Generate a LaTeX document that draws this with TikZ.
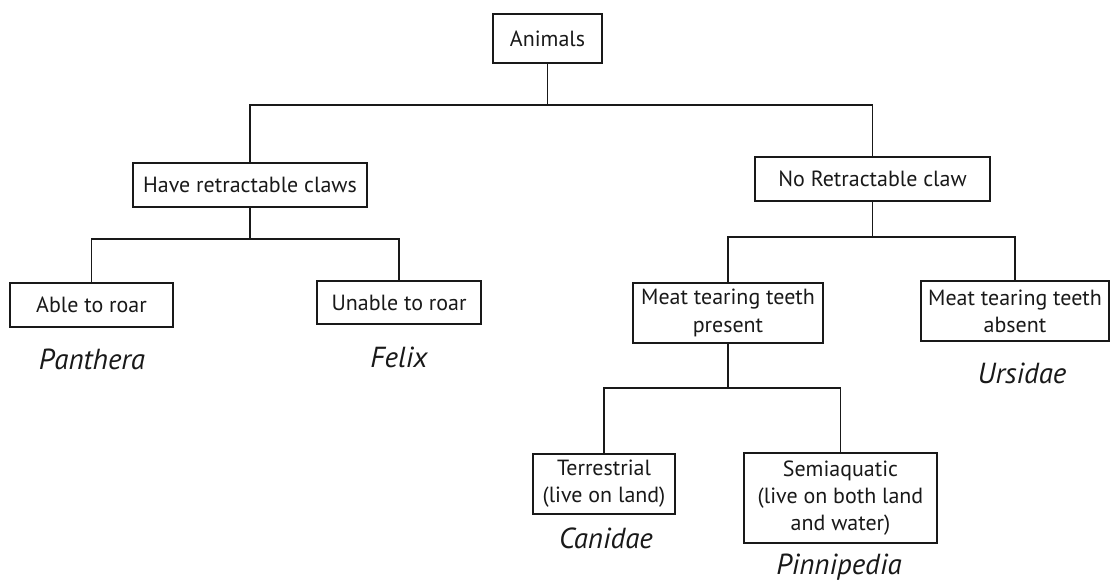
\documentclass[tikz,border=0pt]{standalone}
\usepackage{fontspec}
\setmainfont{PT Sans}
\begin{document}
\begin{tikzpicture}[x=0.02cm,y=-0.02cm,
  line width=1pt,
  box/.style={draw=black!90, line width=1pt, align=center, inner sep=0pt,
    font=\fontsize{12.5}{15.5}\selectfont, text=black!90},
  taxon/.style={font=\fontsize{16.5}{18}\selectfont\itshape, text=black!90, inner sep=0pt},
  link/.style={draw=black!90, line width=1pt}]
\useasboundingbox (0,0) rectangle (1112,584);
\fill[white] (0,0) rectangle (1112,584);
% boxes
\node[box, minimum width=2.18cm, minimum height=0.98cm] (animals) at (547.5,38.5) {Animals};
\node[box, minimum width=4.68cm, minimum height=0.88cm] (hrc) at (250,185) {Have retractable claws};
\node[box, minimum width=4.70cm, minimum height=0.88cm] (nrc) at (872.5,179) {No Retractable claw};
\node[box, minimum width=3.26cm, minimum height=0.88cm] (able) at (91.5,305) {Able to roar};
\node[box, minimum width=3.28cm, minimum height=0.86cm] (unable) at (399,302.5) {Unable to roar};
\node[box, minimum width=3.80cm, minimum height=1.20cm] (mtp) at (728,313) {Meat tearing teeth\\present};
\node[box, minimum width=3.76cm, minimum height=1.20cm] (mta) at (1015,311) {Meat tearing teeth\\absent};
\node[box, minimum width=2.84cm, minimum height=1.20cm] (terr) at (604,484) {Terrestrial\\(live on land)};
\node[box, minimum width=3.86cm, minimum height=1.80cm] (semi) at (840.5,498) {Semiaquatic\\(live on both land\\and water)};
% taxa
\node[taxon] (panthera) at (92,359) {Panthera};
\node[taxon] (felix) at (399,357) {Felix};
\node[taxon] (ursidae) at (1022,373) {Ursidae};
\node[taxon] (canidae) at (606,538) {Canidae};
\node[taxon] (pinnipedia) at (839,567) {Pinnipedia};
% junctions
\coordinate (j1) at (547.5,105);
\coordinate (j2) at (250,239);
\coordinate (j3) at (872.5,237);
\coordinate (j4) at (728,388);
% connectors
\draw[link] (animals.south) -- (j1);
\draw[link] (j1) -| (hrc.north);
\draw[link] (j1) -| (nrc.north);
\draw[link] (hrc.south) -- (j2);
\draw[link] (j2) -| (able.north);
\draw[link] (j2) -| (unable.north);
\draw[link] (nrc.south) -- (j3);
\draw[link] (j3) -| (mtp.north);
\draw[link] (j3) -| (mta.north);
\draw[link] (mtp.south) -- (j4);
\draw[link] (j4) -| (terr.north);
\draw[link] (j4) -| (semi.north);
\end{tikzpicture}
\end{document}
